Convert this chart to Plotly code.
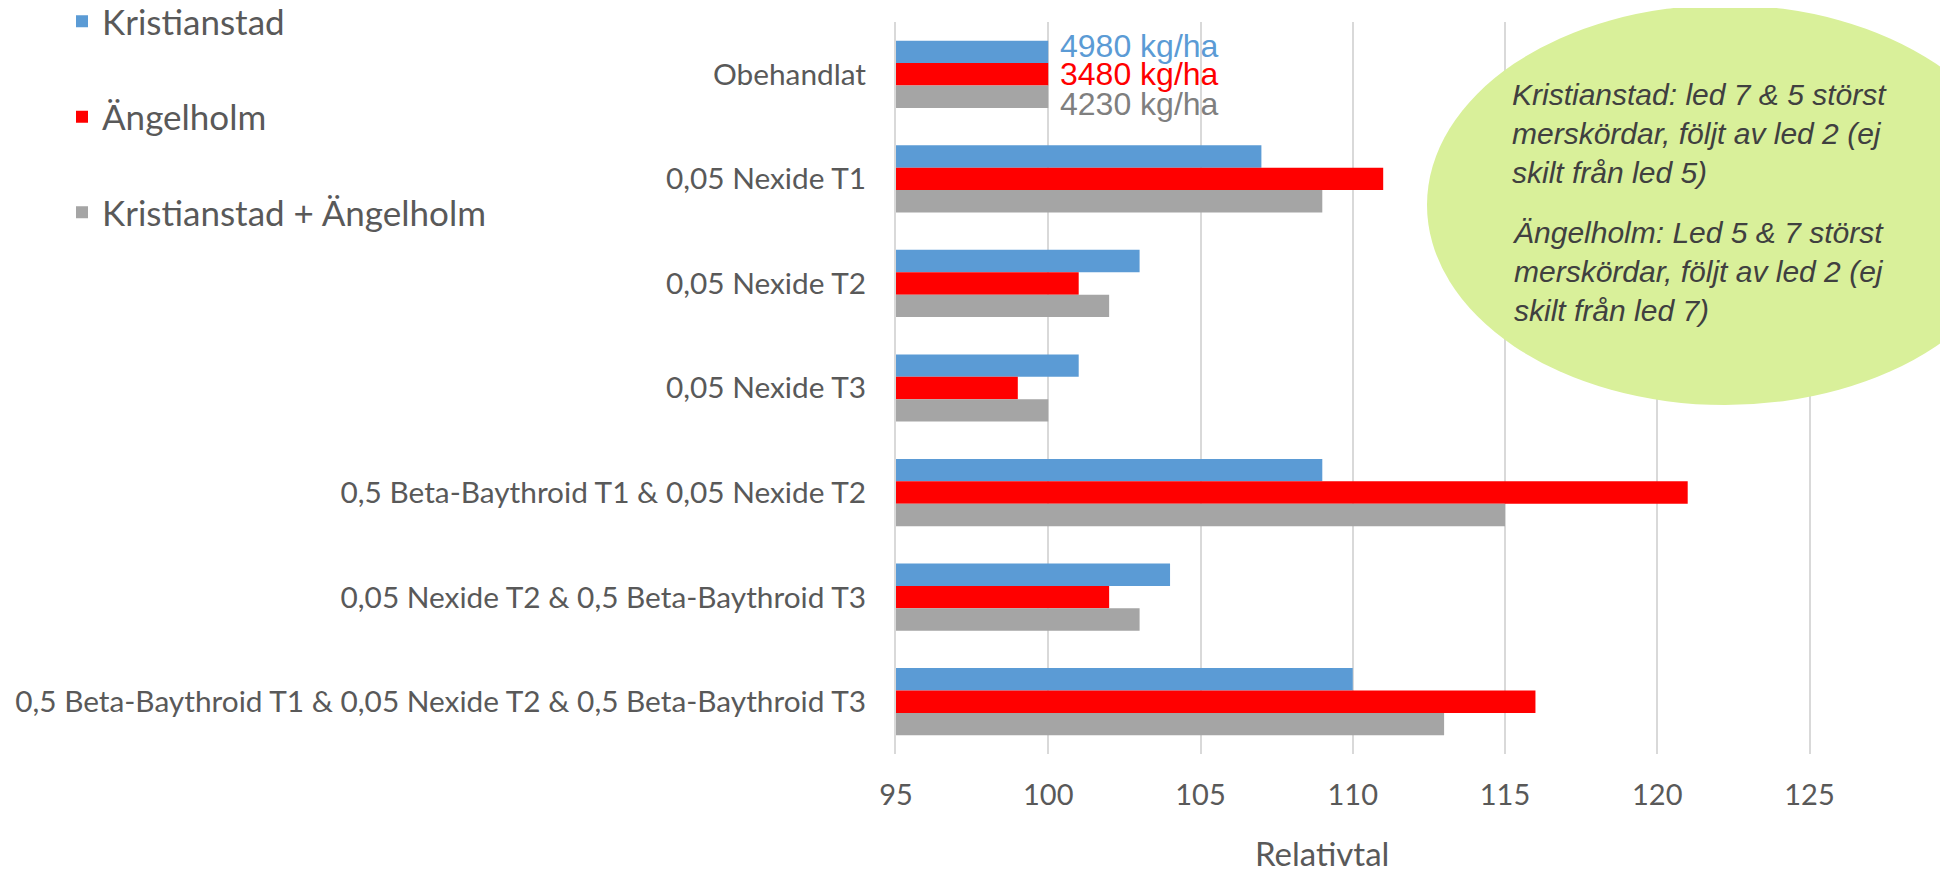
import plotly.graph_objects as go

categories = [
    "Obehandlat",
    "0,05 Nexide T1",
    "0,05 Nexide T2",
    "0,05 Nexide T3",
    "0,5 Beta-Baythroid T1 & 0,05 Nexide T2",
    "0,05 Nexide T2 & 0,5 Beta-Baythroid T3",
    "0,5 Beta-Baythroid T1 & 0,05 Nexide T2 & 0,5 Beta-Baythroid T3",
]
kristianstad = [100, 107, 103, 101, 109, 104, 110]
angelholm = [100, 111, 101, 99, 121, 102, 116]
kombinerat = [100, 109, 102, 100, 115, 103, 113]

series_names = ["Kristianstad", "Ängelholm", "Kristianstad + Ängelholm"]
series_values = [kristianstad, angelholm, kombinerat]
series_colors = ["#5B9BD5", "#FF0000", "#A5A5A5"]
yield_labels = ["4980 kg/ha", "3480 kg/ha", "4230 kg/ha"]
yield_label_colors = ["#5B9BD5", "#FF0000", "#7F7F7F"]

x_ticks = [95, 100, 105, 110, 115, 120, 125]

note_1 = "Kristianstad: led 7 & 5 störst<br>merskördar, följt av led 2 (ej<br>skilt från led 5)"
note_2 = "Ängelholm: Led 5 & 7 störst<br>merskördar, följt av led 2 (ej<br>skilt från led 7)"

# page body has an 8px default margin; the figure is sized to fill the rest
OFF = 8
W, H = 1948 - OFF, 872 - OFF
ML, MR, MT, MB = 896 - OFF, 0, 22 - OFF, 118
PW = W - ML - MR
PH = H - MT - MB
px_per_unit = 30.45
x_max = 95 + PW / px_per_unit

LABEL_FONT = "Lato, Carlito, Calibri, sans-serif"

fig = go.Figure()
for i, (name, vals, col) in enumerate(zip(series_names, series_values, series_colors)):
    fig.add_trace(go.Bar(
        y=categories, x=vals, name=name, orientation="h",
        marker=dict(color=col, line=dict(width=0)),
        legendgroup=f"g{i}",
    ))


def px_x(px):
    return (px - OFF - ML) / PW


def px_y(py):
    return (H - MB - (py - OFF)) / PH


annotations = []
for lbl, col, shift in zip(yield_labels, yield_label_colors, [28, 0, -30]):
    annotations.append(dict(
        x=kristianstad[0], y=categories[0], xref="x", yref="y",
        text=lbl, showarrow=False, xanchor="left", yanchor="middle",
        xshift=10, yshift=shift,
        font=dict(family="Liberation Sans, Arial, sans-serif", size=32, color=col),
    ))

annotations.append(dict(
    x=px_x(1322), y=px_y(853), xref="paper", yref="paper",
    text="Relativtal", showarrow=False, xanchor="center", yanchor="middle",
    font=dict(family=LABEL_FONT, size=33, color="#595959"),
))

for note, cy in [(note_1, 134), (note_2, 271)]:
    annotations.append(dict(
        x=px_x(1510), y=px_y(cy), xref="paper", yref="paper",
        text=f"<i>{note}</i>", showarrow=False, xanchor="left", yanchor="middle",
        align="left",
        font=dict(family="Liberation Sans, Arial, sans-serif", size=30, color="#404040"),
    ))

fig.update_layout(
    width=W, height=H,
    margin=dict(l=ML, r=MR, t=MT, b=MB, pad=0, autoexpand=False),
    paper_bgcolor="white", plot_bgcolor="white",
    barmode="group", bargap=0.357, bargroupgap=0,
    font=dict(family=LABEL_FONT, color="#595959"),
    legend=dict(
        x=px_x(62), y=px_y(-8), xanchor="left", yanchor="top",
        font=dict(family=LABEL_FONT, size=35, color="#595959"),
        tracegroupgap=47, traceorder="grouped",
        bgcolor="rgba(0,0,0,0)",
    ),
    showlegend=True,
    xaxis=dict(
        range=[95, x_max], tickvals=x_ticks, ticktext=[str(v) for v in x_ticks],
        showgrid=True, gridcolor="#D9D9D9", gridwidth=1.5,
        zeroline=False, showline=False,
        ticks="outside", ticklen=15, tickcolor="rgba(0,0,0,0)",
        tickfont=dict(family=LABEL_FONT, size=29, color="#595959"),
    ),
    yaxis=dict(
        categoryorder="array", categoryarray=categories,
        autorange="reversed",
        showgrid=False, zeroline=False,
        showline=True, linecolor="#D9D9D9", linewidth=2,
        ticks="outside", ticklen=22, tickcolor="rgba(0,0,0,0)",
        tickfont=dict(family=LABEL_FONT, size=29.8, color="#595959"),
    ),
    shapes=[dict(
        type="circle", xref="paper", yref="paper",
        x0=px_x(1427), x1=px_x(2023), y0=px_y(405), y1=px_y(5),
        fillcolor="#D9F09A", line=dict(width=0), layer="above",
    )],
    annotations=annotations,
)

fig.write_html("out.html")
